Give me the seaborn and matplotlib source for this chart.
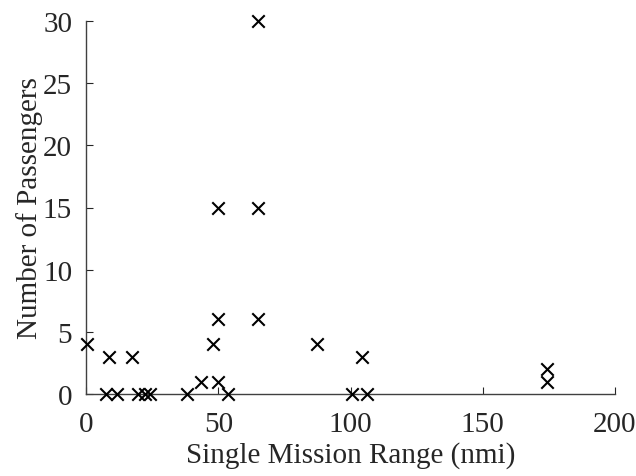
import matplotlib
matplotlib.use("Agg")
import matplotlib.pyplot as plt
import seaborn as sns
import pandas as pd

range_nmi = [0.3, 7.6, 8.8, 11.6, 17.3, 19.7, 22.3, 24.2, 38.1, 43.5, 47.9, 49.9, 49.9, 49.9,
             53.7, 65.0, 65.0, 65.0, 87.2, 100.5, 104.2, 106.1, 174.2, 174.2]
passengers = [4, 0, 3, 0, 3, 0, 0, 0, 0, 1, 4, 1, 6, 15,
              0, 30, 15, 6, 4, 0, 3, 0, 2, 1]

df = pd.DataFrame({"range": range_nmi, "pax": passengers})

sns.set_theme(style="ticks")
plt.rcParams["font.family"] = ["Liberation Serif", "DejaVu Serif"]
plt.rcParams["text.color"] = "#262626"

fig = plt.figure(figsize=(6.36, 4.77), dpi=100)
ax = fig.add_axes([86/636, 1 - 395/477, (615 - 86)/636, (395 - 22)/477])

sns.scatterplot(data=df, x="range", y="pax", marker="x", color="black", s=80,
                linewidth=1.5, ax=ax, clip_on=False, zorder=3)

ax.set_xlim(0, 200)
ax.set_ylim(0, 30)
ax.set_xticks([0, 50, 100, 150, 200])
ax.set_yticks([0, 5, 10, 15, 20, 25, 30])
ax.set_xlabel("Single Mission Range (nmi)", fontsize=21, color="#262626", labelpad=3)
ax.set_ylabel("Number of Passengers", fontsize=21, color="#262626", labelpad=0)
ax.tick_params(direction="in", length=5, width=0.8, labelsize=21, colors="#262626",
               labelcolor="#262626")
ax.tick_params(axis="x", pad=12)
ax.tick_params(axis="y", pad=10)
for s in ["top", "right"]:
    ax.spines[s].set_visible(False)
for s in ["left", "bottom"]:
    ax.spines[s].set_color("#404040")
    ax.spines[s].set_linewidth(1.0)

fig.savefig("out.png", dpi=100)
